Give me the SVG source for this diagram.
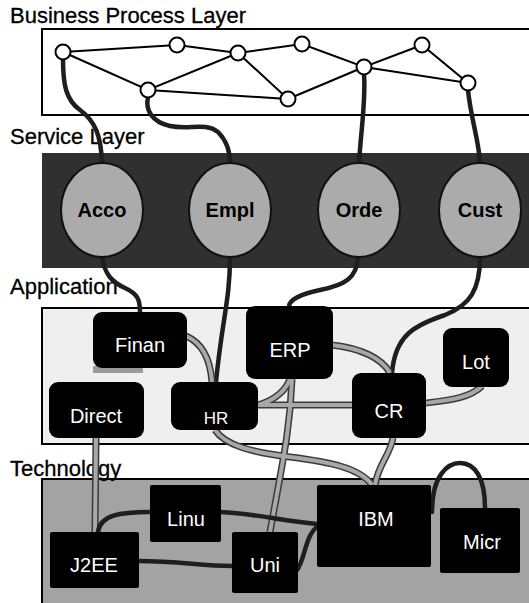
<svg xmlns="http://www.w3.org/2000/svg" width="529" height="603" viewBox="0 0 529 603">
<style>
.lbl{font-family:"Liberation Sans",Arial,sans-serif;font-size:22px;fill:#000;stroke:#000;stroke-width:0.3}
.bp{fill:#fff;stroke:#000;stroke-width:2}
.svc{fill:#ababab;stroke:#111;stroke-width:2}
.svct{font-family:"Liberation Sans",Arial,sans-serif;font-size:20px;font-weight:bold;fill:#000;text-anchor:middle}
.box{fill:#000}
.bt{font-family:"Liberation Sans",Arial,sans-serif;font-size:20px;fill:#fff;text-anchor:middle}
.e{stroke:#000;stroke-width:2;fill:none}
.dk{stroke:#1e1e1e;stroke-width:4.5;fill:none;stroke-linecap:round}
.gro{stroke:#3a3a3a;stroke-width:7;fill:none}
.gri{stroke:#a8a8a8;stroke-width:4;fill:none}
</style>
<rect width="529" height="603" fill="#fff"/>
<g id="layers">
<rect x="42" y="29" width="495" height="86" fill="#fff" stroke="#000" stroke-width="2"/>
<rect x="42" y="153" width="495" height="115" fill="#303030"/>
<rect x="42" y="308" width="495" height="136" fill="#efefef" stroke="#000" stroke-width="2"/>
<rect x="42" y="479" width="495" height="130" fill="#a3a3a3" stroke="#000" stroke-width="2"/>
</g>
<g id="labels">
<text class="lbl" x="10" y="23">Business Process Layer</text>
<text class="lbl" x="10" y="144">Service Layer</text>
<text class="lbl" x="10" y="294">Application</text>
<text class="lbl" x="10" y="476">Technology</text>
</g>
<g id="connectors">
<!-- business process edges -->
<path class="e" d="M63,52 L177,45 L238,53 L302,44 L364,67 L422,45 L468,83 L364,67 M63,52 L148,90 L238,53 L288,99 L148,90 M288,99 L364,67"/>
<!-- business to service -->
<path class="dk" d="M63,59 C63,85 66,100 80,110 C95,121 101,135 102,163"/>
<path class="dk" d="M148,97 C145,110 152,122 170,126 C190,130 205,122 218,132 C226,140 230,150 230,163"/>
<path class="dk" d="M364,74 C366,100 361,130 359,163"/>
<path class="dk" d="M468,90 C471,120 479,140 480,163"/>
<!-- service to application -->
<path class="dk" d="M102,257 C105,275 112,282 125,288 C138,294 140,300 140,312"/>
<path class="dk" d="M230,257 C230,300 222,320 216,382"/>
<path class="dk" d="M358,257 C357,278 345,285 320,290 C300,294 290,300 289,306"/>
<path class="dk" d="M480,257 C480,290 470,305 445,315 C415,325 395,335 392,373"/>
<!-- application internal and application to technology (gray) -->
<rect x="93" y="366" width="50" height="7" fill="#9a9a9a"/>
<g>
<path class="gro" d="M186,336 C200,342 210,355 212,382"/>
<path class="gro" d="M290,379 C285,392 275,400 258,405"/>
<path class="gro" d="M257,405 L352,405"/>
<path class="gro" d="M426,403 C450,400 470,398 482,386"/>
<path class="gro" d="M332,345 C360,348 382,358 390,373"/>
<path class="gro" d="M96,438 L95,532"/>
<path class="gro" d="M215,430 C225,445 250,452 290,457 C330,462 360,468 372,485"/>
<path class="gro" d="M393,438 C390,455 378,465 375,485"/>
<path class="gro" d="M292,379 C290,430 283,460 270,532"/>
<path class="gri" d="M186,336 C200,342 210,355 212,382"/>
<path class="gri" d="M290,379 C285,392 275,400 258,405"/>
<path class="gri" d="M257,405 L352,405"/>
<path class="gri" d="M426,403 C450,400 470,398 482,386"/>
<path class="gri" d="M332,345 C360,348 382,358 390,373"/>
<path class="gri" d="M96,438 L95,532"/>
<path class="gri" d="M215,430 C225,445 250,452 290,457 C330,462 360,468 372,485"/>
<path class="gri" d="M393,438 C390,455 378,465 375,485"/>
<path class="gri" d="M292,379 C290,430 283,460 270,532"/>
</g>
<!-- technology internal -->
<path class="dk" d="M98,532 C100,515 120,512 150,512"/>
<path class="dk" d="M220,512 C260,514 280,521 317,524"/>
<path class="dk" d="M138,561 C180,561 200,566 232,566"/>
<path class="dk" d="M297,570 C305,560 305,535 318,526"/>
<path class="dk" d="M432,512 C432,475 448,463 460,463 C475,463 485,478 485,508"/>
</g>
<g id="bp-nodes">
<circle id="p1" class="bp" cx="63" cy="52" r="7.5"/>
<circle id="p2" class="bp" cx="177" cy="45" r="7.5"/>
<circle id="p3" class="bp" cx="238" cy="53" r="7.5"/>
<circle id="p4" class="bp" cx="302" cy="44" r="7.5"/>
<circle id="p5" class="bp" cx="364" cy="67" r="7.5"/>
<circle id="p6" class="bp" cx="422" cy="45" r="7.5"/>
<circle id="p7" class="bp" cx="468" cy="83" r="7.5"/>
<circle id="p8" class="bp" cx="148" cy="90" r="7.5"/>
<circle id="p9" class="bp" cx="288" cy="99" r="7.5"/>
</g>
<g id="acco"><ellipse class="svc" cx="102" cy="210" rx="41" ry="47"/><text class="svct" x="102" y="217">Acco</text></g>
<g id="empl"><ellipse class="svc" cx="230" cy="210" rx="41" ry="47"/><text class="svct" x="230" y="217">Empl</text></g>
<g id="orde"><ellipse class="svc" cx="359" cy="210" rx="41" ry="47"/><text class="svct" x="359" y="217">Orde</text></g>
<g id="cust"><ellipse class="svc" cx="480" cy="210" rx="41" ry="47"/><text class="svct" x="480" y="217">Cust</text></g>
<g id="finan"><rect class="box" x="93" y="312" width="94" height="56" rx="9"/><text class="bt" x="140" y="352">Finan</text></g>
<g id="direct"><rect class="box" x="49" y="382" width="95" height="56" rx="9"/><text class="bt" x="96" y="423">Direct</text></g>
<g id="hr"><rect class="box" x="171" y="382" width="87" height="48" rx="9"/><text class="bt" x="216" y="424" style="font-size:17px">HR</text></g>
<g id="erp"><rect class="box" x="246" y="306" width="87" height="73" rx="9"/><text class="bt" x="290" y="357">ERP</text></g>
<g id="cr"><rect class="box" x="352" y="373" width="74" height="65" rx="9"/><text class="bt" x="389" y="418">CR</text></g>
<g id="lot"><rect class="box" x="443" y="328" width="66" height="59" rx="9"/><text class="bt" x="476" y="369">Lot</text></g>
<g id="linu"><rect class="box" x="150" y="485" width="71" height="57" rx="2"/><text class="bt" x="186" y="526">Linu</text></g>
<g id="j2ee"><rect class="box" x="50" y="532" width="89" height="56" rx="2"/><text class="bt" x="94" y="572">J2EE</text></g>
<g id="uni"><rect class="box" x="232" y="532" width="66" height="61" rx="2"/><text class="bt" x="265" y="572">Uni</text></g>
<g id="ibm"><rect class="box" x="317" y="485" width="114" height="82" rx="2"/><text class="bt" x="376" y="526">IBM</text></g>
<g id="micr"><rect class="box" x="440" y="508" width="80" height="65" rx="2"/><text class="bt" x="482" y="549">Micr</text></g>
</svg>
